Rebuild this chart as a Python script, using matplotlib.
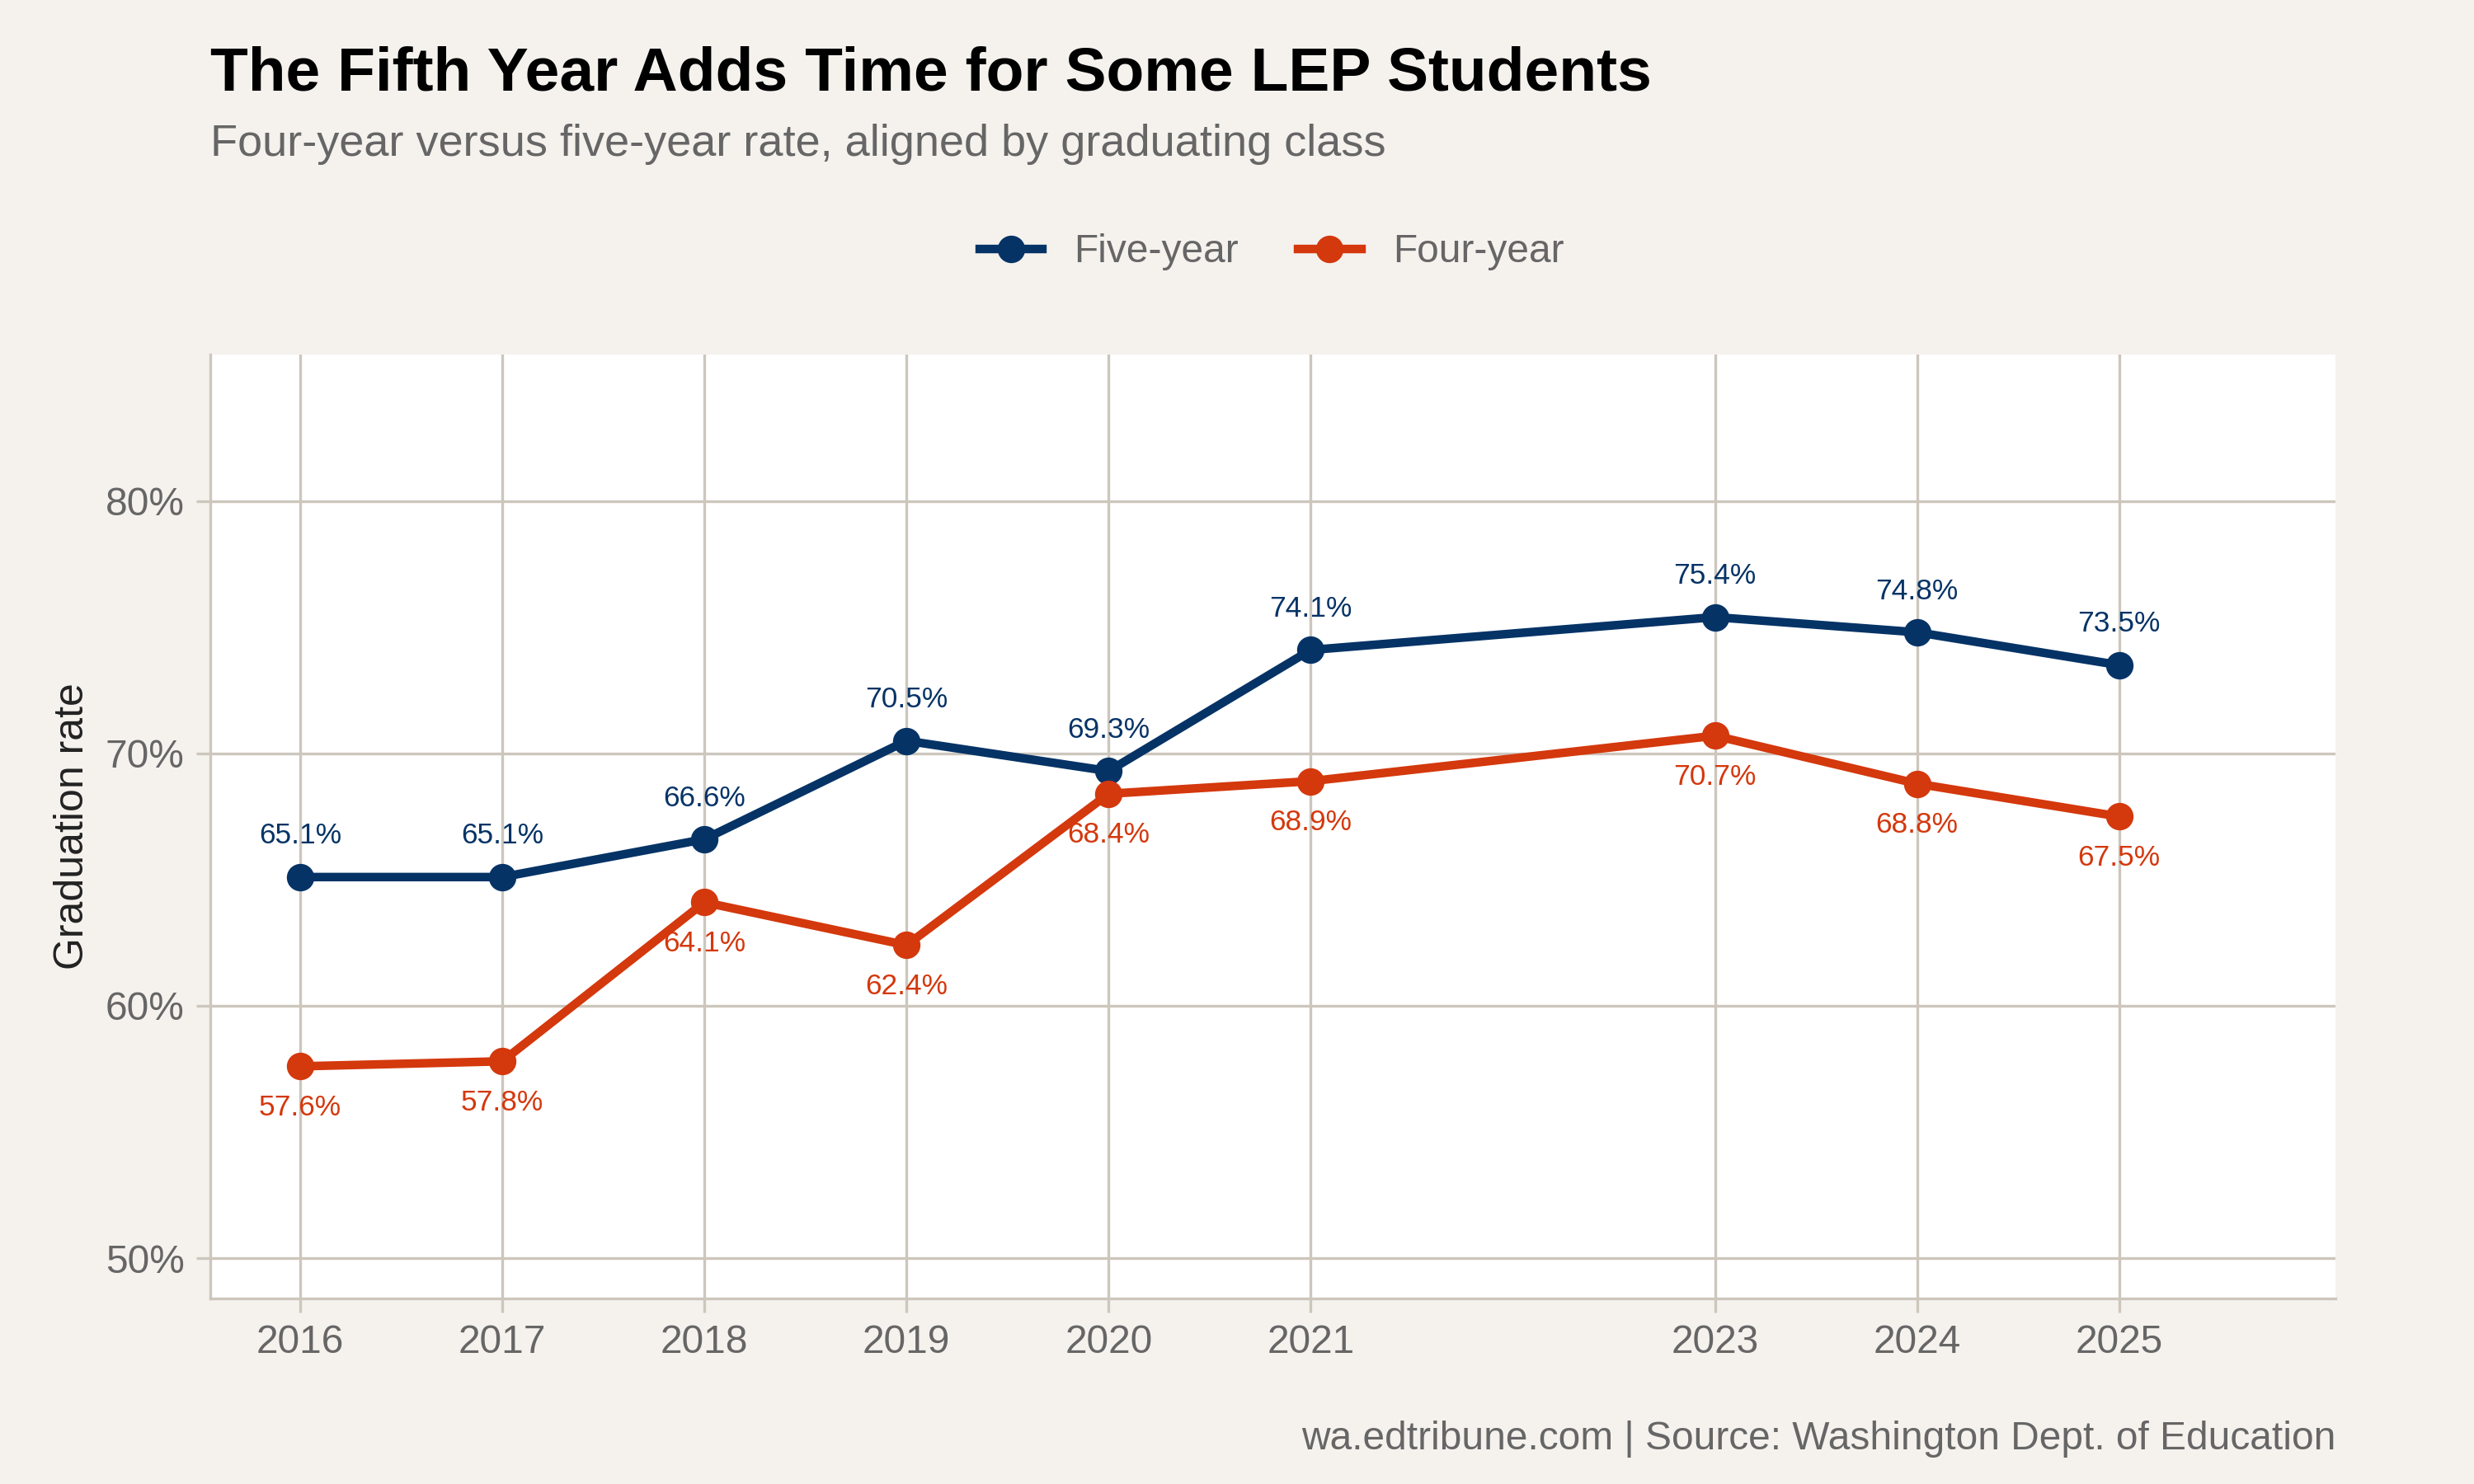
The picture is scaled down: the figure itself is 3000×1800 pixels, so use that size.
import matplotlib.pyplot as plt
from matplotlib.ticker import FuncFormatter

plt.rcParams['font.family'] = ['Liberation Sans', 'DejaVu Sans']

years = [2016, 2017, 2018, 2019, 2020, 2021, 2023, 2024, 2025]
five_year = [65.1, 65.1, 66.6, 70.5, 69.3, 74.1, 75.4, 74.8, 73.5]
four_year = [57.6, 57.8, 64.1, 62.4, 68.4, 68.9, 70.7, 68.8, 67.5]

navy = '#053366'
orange = '#d4380d'
bg = '#f5f2ee'
grid = '#cdc6bd'

fig = plt.figure(figsize=(10, 6), dpi=300, facecolor=bg)
ax = fig.add_axes([0.085, 0.125, 0.859, 0.636])
ax.set_facecolor('white')

ax.plot(years, five_year, color=navy, lw=2.5, marker='o', ms=7, label='Five-year', zorder=3)
ax.plot(years, four_year, color=orange, lw=2.5, marker='o', ms=7, label='Four-year', zorder=3)

for x, y in zip(years, five_year):
    ax.annotate(f'{y}%', (x, y), xytext=(0, 8), textcoords='offset points',
                ha='center', va='bottom', fontsize=8.5, color=navy)
for x, y in zip(years, four_year):
    ax.annotate(f'{y}%', (x, y), xytext=(0, -8), textcoords='offset points',
                ha='center', va='top', fontsize=8.5, color=orange)

ax.set_xlim(2015.555, 2026.07)
ax.set_ylim(48.4, 85.8)
ax.set_xticks(years)
ax.set_yticks([50, 60, 70, 80])
ax.yaxis.set_major_formatter(FuncFormatter(lambda v, p: f'{v:.0f}%'))
ax.grid(True, color=grid, lw=0.8)
ax.set_axisbelow(True)
for s in ['top', 'right']:
    ax.spines[s].set_visible(False)
for s in ['left', 'bottom']:
    ax.spines[s].set_color(grid)
ax.tick_params(colors='#666666', labelsize=11.5, length=4, color=grid)
ax.set_ylabel('Graduation rate', fontsize=12, color='#222222')

fig.text(0.085, 0.95, 'The Fifth Year Adds Time for Some LEP Students',
         fontsize=18, fontweight='bold', va='center')
fig.text(0.085, 0.903, 'Four-year versus five-year rate, aligned by graduating class',
         fontsize=13, color='#666666', va='center')
fig.text(0.944, 0.03, 'wa.edtribune.com | Source: Washington Dept. of Education',
         fontsize=11.5, color='#666666', ha='right', va='center')

fig.legend(loc='center', bbox_to_anchor=(0.514, 0.83), ncol=2, frameon=False,
           fontsize=11.5, labelcolor='#666666', handlelength=1.6, columnspacing=1.5)

fig.savefig('out.png', dpi=300, facecolor=bg)
